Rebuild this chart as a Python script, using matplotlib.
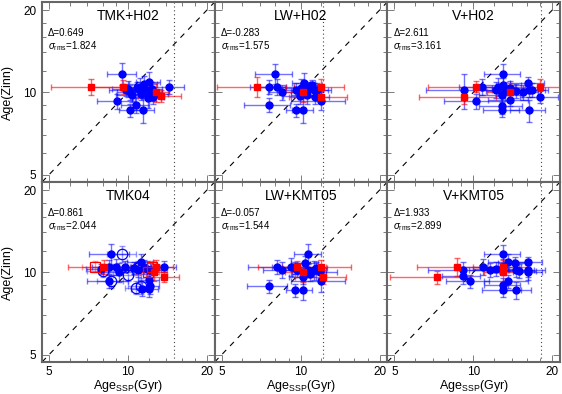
import numpy as np
import matplotlib
matplotlib.use('Agg')
import matplotlib.pyplot as plt
from matplotlib.ticker import FixedLocator, FixedFormatter, NullFormatter

plt.rcParams['font.family'] = ['Liberation Sans', 'DejaVu Sans']
plt.rcParams['mathtext.fontset'] = 'custom'
plt.rcParams['mathtext.rm'] = 'Liberation Sans'
plt.rcParams['mathtext.it'] = 'Liberation Sans:italic'

titles = ['TMK+H02', 'LW+H02', 'V+H02', 'TMK04', 'LW+KMT05', 'V+KMT05']
delta = ['0.649', '-0.283', '2.611', '0.861', '-0.057', '1.933']
sigma = ['1.824', '1.575', '3.161', '2.044', '1.544', '2.899']
age_limit = [15.0, 12.2, 18.1]  # dotted line, one per column (TMK, LW, V)

# columns: Age_SSP, Age(Zinn), err Age_SSP, err Age(Zinn)
blue_tmk_h02 = np.array([
    [9.5, 11.7, 1.2, 1.1], [10.2, 10.0, 1.1, 0.6], [10.0, 10.3, 1.3, 0.7],
    [10.4, 9.8, 1.4, 0.6], [11.1, 10.5, 1.2, 0.8], [11.5, 10.7, 1.4, 0.8],
    [12.0, 10.9, 1.3, 1.0], [12.0, 10.0, 1.5, 0.7], [11.6, 10.3, 1.0, 0.6],
    [12.6, 9.9, 1.6, 0.6], [14.3, 10.5, 2.0, 0.6], [9.1, 9.3, 1.5, 0.6],
    [10.7, 9.0, 1.3, 0.6], [10.2, 8.6, 1.0, 0.5], [11.4, 8.6, 1.2, 0.9],
    [11.9, 9.5, 1.5, 0.7], [12.5, 9.6, 1.2, 0.5], [9.8, 10.2, 1.3, 0.5],
    [10.8, 10.4, 1.4, 0.5], [11.2, 9.9, 1.1, 0.5], [12.3, 10.3, 1.2, 0.6]])
red_tmk_h02 = np.array([
    [7.2, 10.5, 2.1, 0.7], [9.6, 10.5, 2.5, 0.6], [12.8, 10.0, 1.5, 0.8],
    [13.4, 9.7, 2.5, 0.5]])

blue_lw_h02 = np.array([
    [8.0, 11.7, 1.3, 1.0], [7.6, 10.5, 1.2, 0.6], [8.1, 10.5, 1.3, 0.7],
    [8.5, 10.0, 1.0, 0.6], [7.6, 9.0, 1.5, 0.5], [9.6, 8.6, 0.8, 0.5],
    [10.2, 8.6, 0.9, 0.9], [9.6, 10.2, 1.2, 0.6], [10.0, 10.4, 1.3, 0.8],
    [10.3, 10.8, 1.0, 1.0], [10.8, 10.3, 1.4, 0.6], [11.2, 10.2, 1.5, 0.6],
    [11.5, 10.2, 1.6, 0.6], [12.0, 9.3, 2.8, 0.7], [11.3, 9.6, 1.5, 0.5],
    [10.6, 9.8, 1.4, 0.7], [9.9, 9.7, 1.3, 0.6], [11.0, 10.6, 1.1, 0.5],
    [10.4, 10.1, 1.2, 0.5]])
red_lw_h02 = np.array([
    [6.8, 10.5, 2.0, 0.9], [10.2, 10.0, 1.5, 0.8], [12.0, 10.5, 2.6, 0.7],
    [12.0, 9.65, 3.0, 0.5]])

blue_v_h02 = np.array([
    [9.2, 10.2, 2.6, 1.5], [10.2, 9.3, 2.5, 0.6], [10.8, 10.5, 2.0, 0.7],
    [12.2, 10.2, 2.0, 0.7], [12.4, 10.5, 2.0, 0.8], [13.0, 11.7, 2.0, 1.0],
    [13.0, 10.6, 2.2, 0.7], [13.2, 10.1, 2.0, 0.8], [12.9, 9.8, 2.4, 0.6],
    [13.8, 10.4, 2.0, 0.6], [14.5, 10.1, 2.0, 0.6], [13.8, 9.4, 2.4, 0.5],
    [12.9, 8.95, 2.4, 0.6], [12.9, 8.6, 2.0, 0.5], [15.5, 10.0, 2.2, 0.6],
    [16.2, 10.8, 2.4, 0.6], [16.3, 10.2, 2.5, 0.6], [16.8, 10.2, 2.5, 0.6],
    [16.3, 8.6, 2.5, 0.8], [18.0, 9.65, 3.0, 0.5]])
red_v_h02 = np.array([
    [10.2, 10.5, 3.5, 0.5], [9.2, 9.65, 3.0, 0.6], [13.8, 10.0, 2.5, 0.8],
    [18.0, 10.5, 4.0, 0.7]])

blue_tmk04 = np.array([
    [8.6, 11.7, 1.5, 1.0], [8.5, 10.5, 1.2, 0.6], [9.0, 10.5, 1.2, 0.7],
    [9.7, 10.5, 1.2, 0.5], [8.5, 9.3, 1.5, 0.5], [9.2, 10.0, 1.2, 0.8],
    [11.2, 10.9, 1.3, 0.8], [11.5, 10.5, 1.2, 0.6], [11.8, 10.3, 1.2, 0.7],
    [12.1, 10.2, 1.3, 0.6], [11.3, 8.7, 1.0, 0.5], [12.0, 8.7, 1.0, 0.6],
    [12.1, 8.9, 1.0, 0.6], [12.0, 9.4, 1.1, 0.5], [13.7, 10.5, 1.5, 0.5],
    [10.5, 10.4, 1.3, 0.5], [10.9, 10.2, 1.2, 0.6], [7.9, 10.3, 1.0, 0.4]])
blue_open_tmk04 = np.array([
    [9.5, 11.7, 1.2, 0.8], [8.0, 10.1, 1.0, 0.5], [10.0, 9.8, 1.2, 0.5],
    [10.7, 8.8, 1.0, 0.5], [11.2, 8.9, 1.2, 0.6], [10.9, 10.5, 1.3, 0.5],
    [8.6, 9.3, 1.0, 0.5]])
red_tmk04 = np.array([
    [8.1, 10.5, 2.2, 0.6], [12.8, 10.5, 2.0, 0.6], [12.6, 10.0, 1.5, 0.7],
    [13.7, 9.6, 2.0, 0.4]])
red_open_tmk04 = np.array([
    [7.5, 10.5, 0.8, 0.5], [11.9, 10.0, 1.2, 0.5], [12.3, 10.5, 1.0, 0.5]])

blue_lw_kmt05 = np.array([
    [10.7, 11.7, 1.3, 1.0], [8.1, 10.5, 1.8, 0.6], [8.5, 10.2, 1.3, 0.7],
    [7.55, 8.9, 1.3, 0.5], [9.5, 8.6, 0.7, 0.5], [10.2, 8.6, 0.8, 0.7],
    [10.2, 9.6, 1.2, 0.5], [10.4, 10.8, 1.2, 0.7], [10.7, 10.2, 1.4, 0.6],
    [11.2, 10.2, 1.3, 0.8], [11.4, 10.4, 1.2, 0.5], [9.7, 10.2, 1.4, 0.6],
    [9.5, 10.4, 1.0, 0.5], [12.0, 9.3, 2.8, 0.8], [11.8, 10.0, 2.0, 0.5],
    [10.9, 9.9, 1.6, 0.6], [9.2, 10.5, 1.4, 0.8]])
red_lw_kmt05 = np.array([
    [9.65, 10.5, 2.8, 0.5], [10.2, 10.0, 1.5, 0.8], [12.0, 10.5, 3.5, 0.6],
    [12.2, 9.6, 2.7, 0.5]])

blue_v_kmt05 = np.array([
    [13.0, 11.7, 2.0, 0.9], [9.1, 10.2, 2.4, 0.7], [9.1, 9.7, 1.5, 0.6],
    [9.7, 9.3, 1.8, 0.5], [10.9, 10.5, 2.2, 0.7], [11.6, 10.2, 2.0, 0.6],
    [13.0, 10.5, 2.2, 0.7], [13.6, 10.9, 2.2, 0.8], [14.4, 10.8, 2.0, 0.6],
    [14.5, 10.2, 2.5, 0.6], [14.9, 10.1, 2.4, 0.6], [13.0, 8.6, 2.2, 0.5],
    [13.6, 9.3, 2.6, 0.5], [14.6, 8.6, 2.0, 0.6], [16.2, 10.9, 2.0, 0.5],
    [16.2, 10.2, 2.5, 0.6], [16.2, 10.0, 2.0, 0.6], [13.0, 9.0, 2.0, 0.5],
    [12.2, 10.3, 2.2, 0.6]])
red_v_kmt05 = np.array([
    [8.7, 10.5, 2.6, 0.8], [7.3, 9.6, 2.5, 0.5], [13.0, 10.5, 3.0, 0.6],
    [13.0, 10.0, 2.0, 0.8]])

blues = [blue_tmk_h02, blue_lw_h02, blue_v_h02, blue_tmk04, blue_lw_kmt05, blue_v_kmt05]
reds = [red_tmk_h02, red_lw_h02, red_v_h02, red_tmk04, red_lw_kmt05, red_v_kmt05]

BLUE = '#0000ff'
RED = '#ff0000'
SPINE = '#666666'
lim = (4.7, 21.4)

fig = plt.figure(figsize=(5.62, 3.94), dpi=100)
W, H = 562.0, 394.0
left, right, top, bottom = 42, 560, 2, 362
cw = (right - left) / 3.0
rh = (bottom - top) / 2.0


def draw_set(ax, d, color, marker, ms, filled=True, ealpha=0.55):
    ax.errorbar(d[:, 0], d[:, 1], xerr=d[:, 2], yerr=d[:, 3], fmt='none',
                ecolor=color, elinewidth=1.0, capsize=2.5, capthick=1.0,
                alpha=ealpha, zorder=2)
    if filled:
        ax.plot(d[:, 0], d[:, 1], marker, color=color, ms=ms, mec=color, ls='none', zorder=3)
    else:
        ax.plot(d[:, 0], d[:, 1], marker, mfc='none', mec=color, mew=0.9, ms=ms, ls='none', zorder=3)


for i in range(6):
    row, col = divmod(i, 3)
    ax = fig.add_axes([(left + col * cw) / W, 1 - (top + (row + 1) * rh) / H, cw / W, rh / H])
    ax.set_xscale('log')
    ax.set_yscale('log')
    ax.set_xlim(lim)
    ax.set_ylim(lim)

    ax.plot([lim[0], lim[1]], [lim[0], lim[1]], color='k', lw=0.8, ls=(0, (5, 5)), zorder=1)
    ax.axvline(age_limit[col], color='#444444', lw=0.8, ls=(0, (1, 2.5)), zorder=1)

    draw_set(ax, blues[i], BLUE, 'o', 5)
    if i == 3:
        draw_set(ax, blue_open_tmk04, BLUE, 'o', 7.5, filled=False, ealpha=0.4)
        draw_set(ax, red_open_tmk04, RED, 's', 7.5, filled=False, ealpha=0.4)
    draw_set(ax, reds[i], RED, 's', 5, ealpha=0.6)

    ax.text(0.5, 0.92, titles[i], transform=ax.transAxes, ha='center', va='center', fontsize=10)
    ax.text(0.035, 0.83, '\u0394=' + delta[i], transform=ax.transAxes, ha='left', va='center', fontsize=7)
    ax.text(0.035, 0.755, r'$\sigma_{\rm rms}$=' + sigma[i], transform=ax.transAxes,
            ha='left', va='center', fontsize=7)

    for axis in (ax.xaxis, ax.yaxis):
        axis.set_major_locator(FixedLocator([5, 10, 20]))
        axis.set_major_formatter(FixedFormatter(['5', '10', '20']))
        axis.set_minor_locator(FixedLocator([6, 7, 8, 9, 12, 14, 16, 18]))
        axis.set_minor_formatter(NullFormatter())
    ax.tick_params(which='both', direction='in', top=True, right=True, color=SPINE, labelsize=8.5)
    ax.tick_params(which='major', length=5, width=0.6, pad=4)
    ax.tick_params(which='minor', length=3, width=0.6)
    ax.tick_params(axis='x', which='major', pad=3)
    for s in ax.spines.values():
        s.set_color(SPINE)
        s.set_linewidth(1.5)

    if col != 0:
        ax.tick_params(labelleft=False)
    if row == 0:
        ax.tick_params(labelbottom=False)
    else:
        fig.text((left + (col + 0.5) * cw) / W, 1 - 388.5 / H, r'Age$_{\rm SSP}$(Gyr)',
                 ha='center', va='baseline', fontsize=9)
    if col == 0:
        fig.text(8 / W, 1 - (top + (row + 0.5) * rh) / H, 'Age(Zinn)', rotation=90,
                 ha='center', va='center', fontsize=9)

fig.savefig('out.png', dpi=100)
